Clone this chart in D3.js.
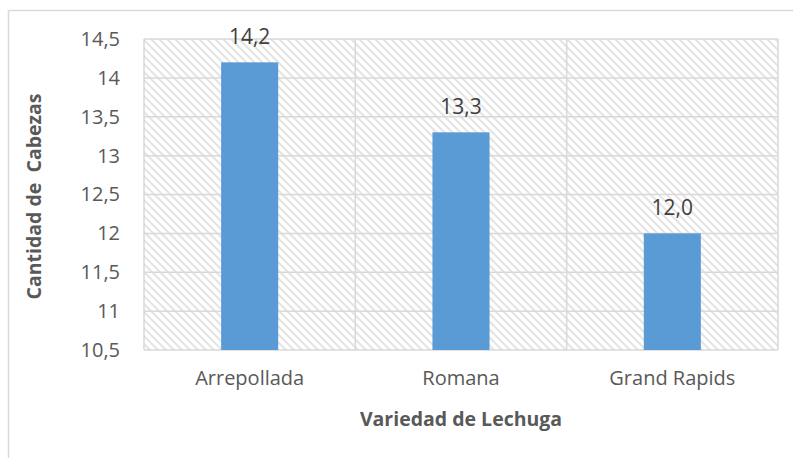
<!DOCTYPE html>
<meta charset="utf-8">
<script src="https://d3js.org/d3.v7.min.js"></script>
<style>
  body { margin: 0; background: #fff; }
  text { font-family: "Open Sans", sans-serif; }
</style>
<div id="my_dataviz"></div>
<script>
    var categories = ["Arrepollada", "Romana", "Grand Rapids"];
    var values = [14.2, 13.3, 12.0];
    var yTicks = [10.5, 11, 11.5, 12, 12.5, 13, 13.5, 14, 14.5];

    var W = 793, H = 458;
    var plot = { left: 144, right: 778, top: 39, bottom: 350 };
    var grid = "#d9d9d9";

    var svg = d3.select("#my_dataviz")
        .append("svg")
        .attr("width", W)
        .attr("height", H);

    svg.append("rect").attr("width", W).attr("height", H).attr("fill", "#fff");

    // hatch pattern for the plot area
    var pat = svg.append("defs").append("pattern")
        .attr("id", "hatch")
        .attr("patternUnits", "userSpaceOnUse")
        .attr("width", 8)
        .attr("height", 8);
    pat.append("rect").attr("width", 8).attr("height", 8).attr("fill", "#fff");
    pat.append("path")
        .attr("d", "M-2,-2L10,10M-2,6L2,10M6,-2L10,2")
        .attr("stroke", "#e4e4e4")
        .attr("stroke-width", 2);

    // chart frame (cropped at right and bottom)
    svg.append("path")
        .attr("d", "M8.5," + H + "V10.5H" + W)
        .attr("fill", "none")
        .attr("stroke", grid)
        .attr("stroke-width", 1.5);

    var x = d3.scaleBand()
        .domain(categories)
        .range([plot.left, plot.right])
        .padding(0);

    var y = d3.scaleLinear()
        .domain([10.5, 14.5])
        .range([plot.bottom, plot.top]);

    svg.append("rect")
        .attr("x", plot.left)
        .attr("y", plot.top)
        .attr("width", plot.right - plot.left)
        .attr("height", plot.bottom - plot.top)
        .attr("fill", "url(#hatch)");

    // horizontal gridlines
    svg.append("g")
        .selectAll("line")
        .data(yTicks)
        .enter()
        .append("line")
        .attr("x1", plot.left)
        .attr("x2", plot.right)
        .attr("y1", function (d) { return y(d); })
        .attr("y2", function (d) { return y(d); })
        .attr("stroke", grid)
        .attr("stroke-width", 1.5);

    // vertical gridlines at category boundaries
    var bounds = categories.map(function (c) { return x(c); }).concat([plot.right]);
    svg.append("g")
        .selectAll("line")
        .data(bounds)
        .enter()
        .append("line")
        .attr("x1", function (d) { return d; })
        .attr("x2", function (d) { return d; })
        .attr("y1", plot.top)
        .attr("y2", plot.bottom)
        .attr("stroke", grid)
        .attr("stroke-width", 1.5);

    // bars
    var barW = x.bandwidth() * 0.27;
    svg.append("g")
        .selectAll("rect")
        .data(values)
        .enter()
        .append("rect")
        .attr("x", function (d, i) { return x(categories[i]) + x.bandwidth() / 2 - barW / 2; })
        .attr("y", function (d) { return y(d); })
        .attr("width", barW)
        .attr("height", function (d) { return y(10.5) - y(d); })
        .attr("fill", "#5b9bd5");

    // value labels
    svg.append("g")
        .selectAll("text")
        .data(values)
        .enter()
        .append("text")
        .attr("x", function (d, i) { return x(categories[i]) + x.bandwidth() / 2; })
        .attr("y", function (d) { return y(d) - 18; })
        .attr("text-anchor", "middle")
        .attr("fill", "#404040")
        .style("font-size", "21px")
        .text(function (d) { return d.toFixed(1).replace(".", ","); });

    // y axis labels
    var yAxis = svg.append("g")
        .attr("transform", "translate(" + (plot.left - 24) + ",0)")
        .call(d3.axisLeft(y).tickValues(yTicks).tickSize(0).tickPadding(0)
            .tickFormat(function (d) { return String(d).replace(".", ","); }));
    yAxis.select(".domain").remove();
    yAxis.selectAll("text")
        .attr("fill", "#595959")
        .style("font-size", "20px")
        .style("font-family", "Open Sans, sans-serif");

    // x axis labels
    var xAxis = svg.append("g")
        .attr("transform", "translate(0," + plot.bottom + ")")
        .call(d3.axisBottom(x).tickSize(0).tickPadding(21));
    xAxis.select(".domain").remove();
    xAxis.selectAll("text")
        .attr("fill", "#595959")
        .style("font-size", "20px")
        .style("font-family", "Open Sans, sans-serif");

    // axis titles
    svg.append("text")
        .attr("x", (plot.left + plot.right) / 2)
        .attr("y", 426)
        .attr("text-anchor", "middle")
        .attr("fill", "#595959")
        .style("font-size", "19.5px")
        .style("font-weight", "bold")
        .text("Variedad de Lechuga");

    svg.append("text")
        .attr("transform", "translate(41," + ((plot.top + plot.bottom) / 2 + 2) + ") rotate(-90)")
        .attr("text-anchor", "middle")
        .attr("fill", "#595959")
        .style("font-size", "19.5px")
        .style("font-weight", "bold")
        .style("white-space", "pre")
        .text("Cantidad de  Cabezas");
</script>
